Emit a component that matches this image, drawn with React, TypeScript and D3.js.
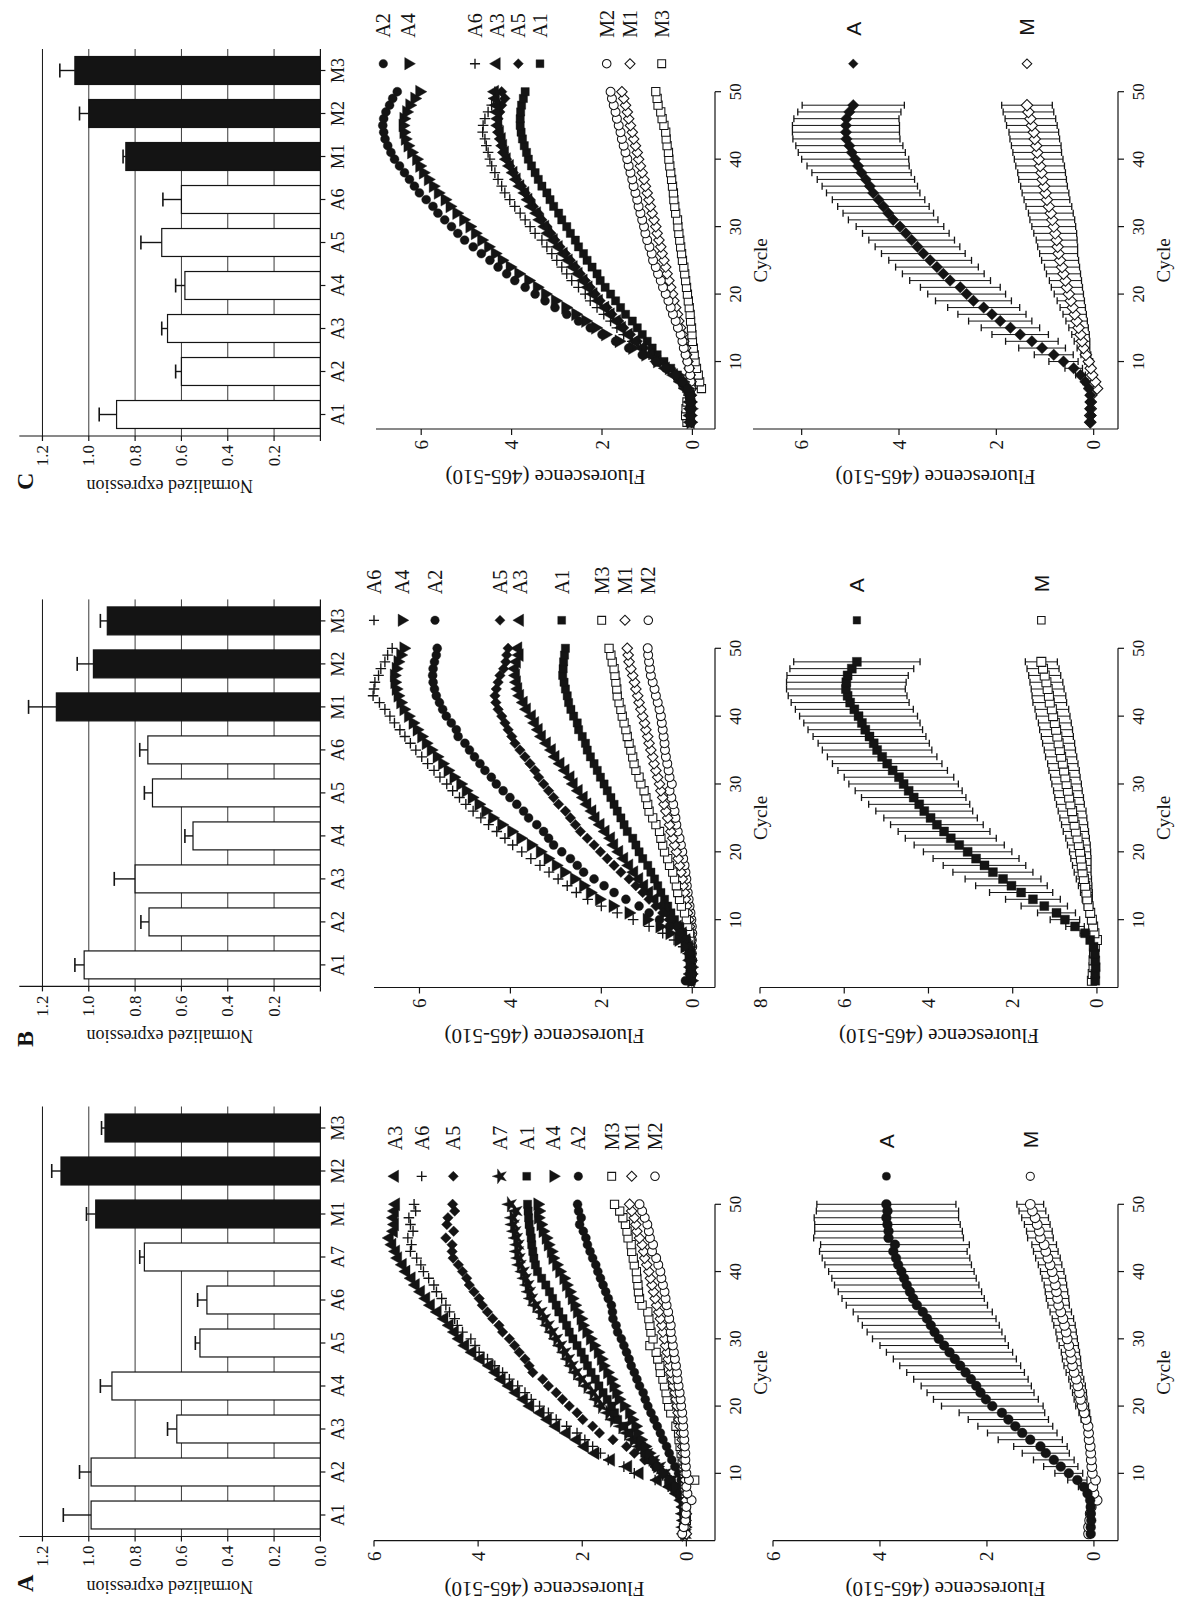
import React, { useEffect, useRef } from 'react';
import * as d3 from 'd3';

// ---------- bar charts (normalized expression) ----------
const barCatsA = ['A1', 'A2', 'A3', 'A4', 'A5', 'A6', 'A7', 'M1', 'M2', 'M3'];
const barValsA = [0.99, 0.99, 0.62, 0.9, 0.52, 0.49, 0.76, 0.97, 1.12, 0.93];
const barErrA = [0.12, 0.05, 0.04, 0.05, 0.02, 0.04, 0.02, 0.04, 0.04, 0.015];

const barCatsBC = ['A1', 'A2', 'A3', 'A4', 'A5', 'A6', 'M1', 'M2', 'M3'];
const barValsB = [1.02, 0.74, 0.8, 0.55, 0.725, 0.745, 1.14, 0.98, 0.92];
const barErrB = [0.04, 0.035, 0.09, 0.035, 0.035, 0.035, 0.12, 0.07, 0.03];
const barValsC = [0.88, 0.6, 0.66, 0.585, 0.685, 0.6, 0.84, 1.0, 1.06];
const barErrC = [0.075, 0.025, 0.025, 0.04, 0.09, 0.08, 0.012, 0.04, 0.065];

const barTicks = [0, 0.2, 0.4, 0.6, 0.8, 1.0, 1.2];
const cycleTicks = [10, 20, 30, 40, 50];

// ---------- amplification curves, cycles 1..50 ----------
const aMidA3 = [0.05, 0.03, 0.04, 0.05, 0.06, 0.1, 0.19, 0.32, 0.55, 0.9, 1.12, 1.45, 1.75, 1.95, 2.1, 2.3, 2.5, 2.66, 2.8, 3.0, 3.12, 3.27, 3.4, 3.55, 3.66, 3.78, 3.95, 4.11, 4.25, 4.36, 4.45, 4.55, 4.65, 4.78, 4.91, 5.0, 5.1, 5.2, 5.28, 5.38, 5.45, 5.54, 5.58, 5.65, 5.7, 5.62, 5.6, 5.62, 5.6, 5.58];
const aMidA6 = [0.04, 0.05, 0.03, 0.04, 0.05, 0.08, 0.2, 0.35, 0.6, 1.0, 1.2, 1.5, 1.65, 1.8, 1.95, 2.1, 2.3, 2.5, 2.65, 2.82, 2.98, 3.1, 3.24, 3.4, 3.53, 3.68, 3.82, 3.98, 4.06, 4.14, 4.3, 4.4, 4.45, 4.55, 4.62, 4.7, 4.8, 4.85, 4.95, 5.05, 5.1, 5.18, 5.3, 5.28, 5.35, 5.25, 5.3, 5.33, 5.2, 5.23];
const aMidA5 = [0.06, 0.04, 0.05, 0.03, 0.05, 0.08, 0.12, 0.2, 0.3, 0.45, 0.6, 0.8, 1.0, 1.15, 1.41, 1.67, 1.8, 1.99, 2.1, 2.25, 2.38, 2.5, 2.65, 2.76, 2.95, 3.02, 3.1, 3.21, 3.3, 3.4, 3.53, 3.6, 3.72, 3.82, 3.92, 3.98, 4.08, 4.17, 4.22, 4.3, 4.38, 4.48, 4.5, 4.5, 4.62, 4.47, 4.6, 4.58, 4.45, 4.49];
const aMidA7 = [0.03, 0.05, 0.04, 0.06, 0.04, 0.06, 0.1, 0.19, 0.29, 0.42, 0.52, 0.64, 0.77, 0.9, 1.03, 1.14, 1.25, 1.41, 1.5, 1.64, 1.72, 1.8, 1.92, 2.02, 2.12, 2.2, 2.27, 2.34, 2.42, 2.5, 2.58, 2.66, 2.73, 2.8, 2.9, 2.98, 3.02, 3.05, 3.1, 3.14, 3.2, 3.22, 3.25, 3.24, 3.27, 3.3, 3.33, 3.34, 3.28, 3.39];
const aMidA1 = [0.05, 0.06, 0.04, 0.05, 0.03, 0.06, 0.1, 0.18, 0.3, 0.45, 0.58, 0.71, 0.8, 0.9, 0.99, 1.1, 1.2, 1.32, 1.38, 1.44, 1.52, 1.6, 1.68, 1.75, 1.83, 1.9, 1.96, 2.02, 2.1, 2.18, 2.25, 2.3, 2.37, 2.45, 2.5, 2.57, 2.63, 2.7, 2.78, 2.86, 2.9, 2.93, 2.95, 2.97, 2.98, 3.0, 3.02, 3.03, 3.04, 3.05];
const aMidA4 = [0.04, 0.03, 0.05, 0.04, 0.06, 0.07, 0.12, 0.22, 0.35, 0.45, 0.56, 0.65, 0.72, 0.8, 0.88, 0.95, 0.98, 1.05, 1.1, 1.2, 1.3, 1.35, 1.4, 1.45, 1.52, 1.6, 1.64, 1.7, 1.78, 1.85, 1.92, 2.0, 2.03, 2.1, 2.15, 2.2, 2.25, 2.31, 2.36, 2.44, 2.5, 2.57, 2.6, 2.66, 2.7, 2.76, 2.8, 2.85, 2.84, 2.86];
const aMidA2 = [0.03, 0.04, 0.02, 0.04, 0.03, 0.04, 0.06, 0.08, 0.1, 0.15, 0.22, 0.28, 0.33, 0.38, 0.45, 0.5, 0.56, 0.62, 0.68, 0.74, 0.79, 0.83, 0.9, 0.95, 1.0, 1.06, 1.1, 1.15, 1.2, 1.25, 1.32, 1.35, 1.41, 1.42, 1.44, 1.5, 1.55, 1.6, 1.65, 1.7, 1.74, 1.8, 1.85, 1.9, 1.93, 1.98, 2.05, 2.02, 2.07, 2.09];
const aMidM3 = [0.02, 0.03, 0.0, 0.02, 0.01, 0.0, 0.02, 0.03, -0.16, 0.04, 0.06, 0.08, 0.1, 0.12, 0.14, 0.15, 0.2, 0.16, 0.3, 0.34, 0.37, 0.39, 0.42, 0.45, 0.5, 0.51, 0.55, 0.58, 0.7, 0.64, 0.68, 0.7, 0.72, 0.74, 0.85, 0.9, 0.92, 0.93, 0.95, 0.96, 1.0, 1.02, 1.05, 1.06, 1.12, 1.14, 1.17, 1.22, 1.28, 1.38];
const aMidM1 = [0.0, 0.02, 0.01, 0.0, 0.02, 0.01, 0.0, 0.02, 0.02, 0.03, 0.04, 0.05, 0.06, 0.07, 0.08, 0.1, 0.12, 0.14, 0.16, 0.18, 0.2, 0.22, 0.25, 0.27, 0.3, 0.32, 0.35, 0.37, 0.4, 0.42, 0.45, 0.47, 0.5, 0.53, 0.57, 0.6, 0.63, 0.66, 0.69, 0.72, 0.76, 0.8, 0.82, 0.85, 0.9, 0.95, 0.97, 1.0, 1.05, 1.09];
const aMidM2 = [0.08, 0.05, 0.02, 0.01, 0.0, -0.1, -0.02, 0.0, -0.05, 0.0, 0.01, 0.02, 0.02, 0.03, 0.04, 0.05, 0.06, 0.07, 0.08, 0.1, 0.11, 0.13, 0.15, 0.17, 0.18, 0.2, 0.22, 0.24, 0.26, 0.28, 0.3, 0.3, 0.33, 0.35, 0.38, 0.4, 0.42, 0.45, 0.48, 0.5, 0.54, 0.58, 0.66, 0.64, 0.7, 0.72, 0.75, 0.8, 0.85, 0.9];

const bMidA6 = [0.03, 0.02, 0.04, 0.05, 0.1, 0.2, 0.4, 0.65, 0.95, 1.3, 1.65, 2.0, 2.3, 2.55, 2.75, 2.95, 3.15, 3.35, 3.55, 3.75, 3.95, 4.12, 4.3, 4.48, 4.65, 4.82, 4.98, 5.12, 5.27, 5.4, 5.55, 5.68, 5.82, 5.95, 6.08, 6.2, 6.32, 6.43, 6.55, 6.65, 6.76, 6.88, 7.02, 7.0, 6.98, 6.9, 6.85, 6.76, 6.7, 6.6];
const bMidA4 = [0.02, 0.03, 0.02, 0.05, 0.08, 0.17, 0.3, 0.5, 0.72, 1.0, 1.4, 1.75, 2.05, 2.25, 2.4, 2.6, 2.82, 3.0, 3.18, 3.35, 3.55, 3.78, 3.98, 4.2, 4.4, 4.55, 4.7, 4.85, 4.98, 5.1, 5.25, 5.38, 5.5, 5.62, 5.75, 5.86, 5.96, 6.06, 6.15, 6.25, 6.35, 6.42, 6.48, 6.52, 6.55, 6.56, 6.52, 6.48, 6.42, 6.35];
const bMidA2 = [0.15, 0.05, 0.04, 0.05, 0.07, 0.1, 0.17, 0.28, 0.5, 0.72, 0.95, 1.17, 1.46, 1.72, 1.94, 2.16, 2.39, 2.53, 2.68, 2.87, 3.05, 3.16, 3.27, 3.42, 3.6, 3.71, 3.86, 4.01, 4.16, 4.31, 4.42, 4.56, 4.67, 4.79, 4.9, 5.0, 5.15, 5.19, 5.3, 5.41, 5.49, 5.56, 5.63, 5.67, 5.7, 5.71, 5.7, 5.67, 5.63, 5.61];
const bMidA5 = [0.04, 0.03, 0.05, 0.04, 0.05, 0.07, 0.13, 0.24, 0.35, 0.5, 0.65, 0.8, 0.95, 1.09, 1.24, 1.39, 1.57, 1.72, 1.87, 2.02, 2.16, 2.31, 2.46, 2.57, 2.68, 2.79, 2.94, 3.05, 3.16, 3.27, 3.38, 3.46, 3.57, 3.68, 3.79, 3.9, 3.97, 4.05, 4.12, 4.19, 4.27, 4.32, 4.34, 4.31, 4.27, 4.23, 4.15, 4.1, 4.08, 4.05];
const bMidA3 = [0.03, 0.04, 0.03, 0.05, 0.04, 0.07, 0.13, 0.21, 0.32, 0.47, 0.58, 0.69, 0.83, 0.95, 1.06, 1.17, 1.28, 1.39, 1.5, 1.61, 1.72, 1.79, 1.91, 2.02, 2.13, 2.2, 2.31, 2.39, 2.5, 2.61, 2.68, 2.79, 2.9, 3.01, 3.09, 3.2, 3.31, 3.38, 3.46, 3.53, 3.64, 3.71, 3.79, 3.83, 3.86, 3.88, 3.9, 3.86, 3.8, 3.83];
const bMidA1 = [0.04, 0.05, 0.03, 0.04, 0.05, 0.07, 0.13, 0.21, 0.28, 0.39, 0.47, 0.54, 0.61, 0.69, 0.76, 0.83, 0.91, 0.98, 1.09, 1.17, 1.24, 1.31, 1.43, 1.5, 1.57, 1.65, 1.72, 1.79, 1.87, 1.94, 2.02, 2.09, 2.16, 2.24, 2.31, 2.35, 2.42, 2.5, 2.53, 2.61, 2.67, 2.72, 2.75, 2.79, 2.82, 2.85, 2.84, 2.83, 2.81, 2.79];
const bMidM3 = [0.03, 0.02, 0.04, 0.03, 0.04, 0.04, 0.05, 0.06, 0.1, 0.13, 0.17, 0.24, 0.28, 0.32, 0.35, 0.39, 0.43, 0.5, 0.54, 0.61, 0.65, 0.69, 0.72, 0.8, 0.87, 0.95, 0.98, 1.02, 1.06, 1.13, 1.17, 1.24, 1.28, 1.31, 1.35, 1.39, 1.43, 1.46, 1.5, 1.54, 1.57, 1.61, 1.65, 1.66, 1.68, 1.7, 1.72, 1.76, 1.79, 1.83];
const bMidM1 = [0.02, 0.01, 0.03, 0.02, 0.03, 0.03, 0.04, 0.05, 0.06, 0.07, 0.1, 0.12, 0.15, 0.17, 0.2, 0.22, 0.25, 0.28, 0.31, 0.35, 0.39, 0.43, 0.47, 0.5, 0.54, 0.58, 0.62, 0.65, 0.69, 0.72, 0.76, 0.8, 0.84, 0.87, 0.91, 0.95, 0.98, 1.02, 1.05, 1.09, 1.13, 1.17, 1.2, 1.24, 1.27, 1.31, 1.35, 1.39, 1.41, 1.43];
const bMidM2 = [0.02, 0.0, 0.01, 0.0, 0.01, 0.0, 0.01, 0.0, 0.01, 0.02, 0.04, 0.06, 0.08, 0.1, 0.12, 0.13, 0.15, 0.17, 0.2, 0.22, 0.25, 0.28, 0.32, 0.35, 0.37, 0.39, 0.42, 0.46, 0.5, 0.45, 0.5, 0.52, 0.55, 0.58, 0.6, 0.61, 0.63, 0.65, 0.67, 0.69, 0.72, 0.76, 0.8, 0.83, 0.87, 0.91, 0.93, 0.95, 0.97, 0.98];

const cMidA2 = [0.05, 0.04, 0.06, 0.05, 0.04, 0.11, 0.22, 0.37, 0.59, 0.81, 1.11, 1.41, 1.7, 2.0, 2.26, 2.52, 2.78, 3.04, 3.26, 3.48, 3.7, 3.93, 4.11, 4.3, 4.48, 4.67, 4.85, 5.04, 5.19, 5.33, 5.48, 5.63, 5.74, 5.89, 6.04, 6.15, 6.26, 6.37, 6.48, 6.59, 6.67, 6.74, 6.8, 6.83, 6.85, 6.83, 6.78, 6.7, 6.63, 6.53];
const cMidA4 = [0.04, 0.05, 0.03, 0.05, 0.06, 0.11, 0.22, 0.33, 0.52, 0.78, 1.04, 1.33, 1.63, 1.93, 2.15, 2.37, 2.59, 2.81, 3.04, 3.26, 3.44, 3.63, 3.85, 4.04, 4.22, 4.37, 4.52, 4.67, 4.81, 4.93, 5.07, 5.22, 5.37, 5.48, 5.63, 5.74, 5.85, 5.96, 6.04, 6.11, 6.22, 6.3, 6.36, 6.39, 6.41, 6.39, 6.33, 6.26, 6.15, 6.04];
const cMidA6 = [0.05, 0.04, 0.05, 0.06, 0.05, 0.15, 0.26, 0.41, 0.59, 0.78, 0.96, 1.15, 1.33, 1.52, 1.67, 1.81, 1.96, 2.11, 2.26, 2.37, 2.52, 2.67, 2.78, 2.89, 3.0, 3.11, 3.22, 3.33, 3.48, 3.59, 3.7, 3.81, 3.93, 4.04, 4.15, 4.22, 4.3, 4.37, 4.44, 4.48, 4.52, 4.56, 4.59, 4.64, 4.63, 4.59, 4.52, 4.44, 4.4, 4.37];
const cMidA3 = [0.04, 0.05, 0.04, 0.05, 0.04, 0.15, 0.26, 0.41, 0.59, 0.78, 0.93, 1.11, 1.26, 1.41, 1.56, 1.67, 1.81, 1.93, 2.07, 2.19, 2.3, 2.41, 2.52, 2.63, 2.74, 2.85, 2.96, 3.07, 3.19, 3.26, 3.37, 3.44, 3.56, 3.63, 3.7, 3.81, 3.89, 3.96, 4.04, 4.11, 4.15, 4.19, 4.22, 4.26, 4.3, 4.3, 4.32, 4.33, 4.35, 4.37];
const cMidA5 = [0.03, 0.04, 0.05, 0.04, 0.05, 0.13, 0.24, 0.37, 0.56, 0.74, 0.89, 1.07, 1.22, 1.37, 1.52, 1.63, 1.78, 1.89, 2.04, 2.15, 2.26, 2.37, 2.48, 2.59, 2.7, 2.81, 2.93, 3.04, 3.13, 3.22, 3.33, 3.41, 3.52, 3.59, 3.7, 3.78, 3.89, 3.96, 4.04, 4.11, 4.19, 4.22, 4.26, 4.3, 4.31, 4.3, 4.26, 4.22, 4.15, 4.22];
const cMidA1 = [0.05, 0.04, 0.05, 0.03, 0.05, 0.13, 0.22, 0.33, 0.48, 0.63, 0.78, 0.89, 1.0, 1.11, 1.22, 1.33, 1.48, 1.59, 1.7, 1.81, 1.93, 2.04, 2.11, 2.22, 2.33, 2.41, 2.52, 2.59, 2.7, 2.78, 2.89, 2.96, 3.07, 3.15, 3.22, 3.33, 3.41, 3.48, 3.56, 3.63, 3.67, 3.72, 3.76, 3.79, 3.81, 3.81, 3.8, 3.78, 3.74, 3.7];
const cMidM2 = [0.03, 0.04, 0.02, 0.03, 0.04, 0.03, 0.04, 0.05, 0.07, 0.11, 0.15, 0.19, 0.22, 0.26, 0.32, 0.37, 0.43, 0.48, 0.53, 0.59, 0.65, 0.7, 0.76, 0.81, 0.87, 0.9, 0.95, 1.0, 1.04, 1.07, 1.11, 1.15, 1.19, 1.22, 1.26, 1.3, 1.33, 1.37, 1.41, 1.44, 1.48, 1.52, 1.56, 1.59, 1.63, 1.67, 1.7, 1.74, 1.78, 1.81];
const cMidM1 = [0.02, 0.03, 0.04, 0.02, 0.03, 0.02, 0.03, 0.05, 0.07, 0.1, 0.13, 0.15, 0.19, 0.22, 0.26, 0.3, 0.33, 0.37, 0.41, 0.44, 0.48, 0.52, 0.56, 0.59, 0.63, 0.67, 0.7, 0.74, 0.78, 0.81, 0.85, 0.89, 0.93, 0.96, 1.0, 1.04, 1.07, 1.11, 1.15, 1.19, 1.22, 1.26, 1.3, 1.33, 1.37, 1.41, 1.44, 1.48, 1.52, 1.56];
const cMidM3 = [0.12, 0.15, 0.14, 0.12, 0.06, -0.2, -0.16, -0.13, -0.09, -0.06, -0.04, -0.02, 0.0, 0.01, 0.02, 0.04, 0.05, 0.07, 0.09, 0.11, 0.13, 0.15, 0.17, 0.19, 0.22, 0.24, 0.26, 0.28, 0.3, 0.32, 0.33, 0.37, 0.39, 0.41, 0.42, 0.44, 0.46, 0.48, 0.5, 0.52, 0.53, 0.56, 0.58, 0.59, 0.63, 0.67, 0.7, 0.76, 0.78, 0.81];

// ---------- group means +/- SD ----------
const aBotA = [0.06, 0.06, 0.05, 0.06, 0.06, 0.07, 0.12, 0.19, 0.31, 0.47, 0.62, 0.75, 0.9, 1.0, 1.19, 1.34, 1.47, 1.6, 1.72, 1.9, 2.02, 2.12, 2.2, 2.3, 2.4, 2.5, 2.6, 2.7, 2.8, 2.9, 2.98, 3.05, 3.12, 3.2, 3.31, 3.38, 3.44, 3.5, 3.55, 3.6, 3.66, 3.7, 3.75, 3.72, 3.84, 3.84, 3.86, 3.88, 3.86, 3.88];
const aBotAsd = [0.02, 0.02, 0.02, 0.02, 0.02, 0.02, 0.05, 0.1, 0.18, 0.26, 0.32, 0.38, 0.44, 0.5, 0.6, 0.65, 0.7, 0.75, 0.8, 0.95, 0.98, 1.0, 1.03, 1.07, 1.1, 1.13, 1.15, 1.18, 1.2, 1.24, 1.26, 1.28, 1.29, 1.3, 1.32, 1.33, 1.34, 1.35, 1.35, 1.36, 1.37, 1.38, 1.38, 1.39, 1.4, 1.38, 1.36, 1.35, 1.33, 1.3];
const aBotM = [0.1, 0.1, 0.08, 0.07, 0.05, -0.06, 0.0, 0.02, -0.03, 0.03, 0.04, 0.05, 0.06, 0.07, 0.09, 0.1, 0.11, 0.15, 0.18, 0.22, 0.25, 0.27, 0.3, 0.33, 0.37, 0.4, 0.42, 0.44, 0.47, 0.5, 0.52, 0.55, 0.58, 0.62, 0.66, 0.68, 0.7, 0.72, 0.75, 0.78, 0.82, 0.86, 0.9, 0.93, 1.0, 1.02, 1.06, 1.1, 1.15, 1.19];
const aBotMsd = [0.02, 0.02, 0.02, 0.02, 0.02, 0.02, 0.02, 0.02, 0.02, 0.02, 0.03, 0.03, 0.03, 0.03, 0.04, 0.05, 0.06, 0.09, 0.1, 0.12, 0.12, 0.13, 0.14, 0.14, 0.15, 0.16, 0.17, 0.17, 0.18, 0.19, 0.19, 0.2, 0.2, 0.2, 0.2, 0.21, 0.21, 0.21, 0.22, 0.22, 0.22, 0.23, 0.23, 0.23, 0.24, 0.24, 0.24, 0.25, 0.25, 0.25];

const bBotA = [0.04, 0.04, 0.03, 0.04, 0.05, 0.08, 0.16, 0.28, 0.52, 0.76, 0.96, 1.25, 1.52, 1.8, 2.03, 2.23, 2.47, 2.67, 2.87, 3.07, 3.27, 3.47, 3.63, 3.8, 3.95, 4.1, 4.22, 4.35, 4.47, 4.59, 4.7, 4.85, 4.98, 5.1, 5.22, 5.3, 5.4, 5.5, 5.58, 5.66, 5.76, 5.86, 5.92, 5.96, 5.95, 5.92, 5.82, 5.7];
const bBotAsd = [0.02, 0.02, 0.02, 0.02, 0.02, 0.02, 0.06, 0.12, 0.22, 0.35, 0.45, 0.55, 0.65, 0.75, 0.85, 0.9, 0.95, 0.98, 1.02, 1.05, 1.07, 1.08, 1.09, 1.1, 1.11, 1.15, 1.2, 1.24, 1.27, 1.3, 1.3, 1.3, 1.3, 1.3, 1.3, 1.32, 1.34, 1.36, 1.38, 1.4, 1.4, 1.4, 1.41, 1.41, 1.42, 1.44, 1.47, 1.5];
const bBotM = [0.12, 0.1, 0.08, 0.08, 0.07, 0.05, 0.0, 0.06, 0.09, 0.12, 0.16, 0.2, 0.23, 0.25, 0.28, 0.31, 0.34, 0.36, 0.38, 0.4, 0.43, 0.46, 0.5, 0.53, 0.56, 0.59, 0.63, 0.66, 0.69, 0.72, 0.75, 0.78, 0.81, 0.85, 0.88, 0.91, 0.94, 0.97, 1.0, 1.04, 1.07, 1.12, 1.14, 1.17, 1.2, 1.24, 1.28, 1.32];
const bBotMsd = [0.03, 0.03, 0.03, 0.03, 0.03, 0.03, 0.03, 0.03, 0.03, 0.05, 0.08, 0.1, 0.12, 0.14, 0.16, 0.18, 0.2, 0.22, 0.24, 0.25, 0.27, 0.28, 0.3, 0.31, 0.32, 0.33, 0.33, 0.34, 0.34, 0.35, 0.35, 0.36, 0.36, 0.37, 0.37, 0.38, 0.38, 0.39, 0.39, 0.4, 0.4, 0.4, 0.4, 0.39, 0.39, 0.38, 0.38, 0.38];

const cBotA = [0.07, 0.06, 0.07, 0.06, 0.07, 0.1, 0.17, 0.27, 0.41, 0.62, 0.82, 1.06, 1.27, 1.51, 1.71, 1.92, 2.09, 2.26, 2.47, 2.61, 2.74, 2.95, 3.09, 3.22, 3.36, 3.5, 3.62, 3.74, 3.86, 3.98, 4.12, 4.22, 4.32, 4.42, 4.53, 4.6, 4.68, 4.77, 4.84, 4.9, 4.97, 5.02, 5.08, 5.09, 5.09, 5.08, 5.02, 4.94];
const cBotAsd = [0.02, 0.02, 0.02, 0.02, 0.02, 0.02, 0.05, 0.1, 0.18, 0.3, 0.4, 0.48, 0.54, 0.58, 0.6, 0.65, 0.7, 0.74, 0.78, 0.8, 0.82, 0.83, 0.84, 0.85, 0.85, 0.86, 0.87, 0.88, 0.89, 0.9, 0.92, 0.93, 0.94, 0.95, 0.96, 0.98, 1.0, 1.02, 1.05, 1.1, 1.1, 1.1, 1.1, 1.1, 1.1, 1.08, 1.06, 1.05];
const cBotM = [0.07, 0.07, 0.06, 0.06, 0.05, -0.07, -0.03, 0.03, 0.06, 0.1, 0.16, 0.21, 0.24, 0.27, 0.31, 0.35, 0.39, 0.43, 0.47, 0.51, 0.55, 0.58, 0.62, 0.65, 0.69, 0.72, 0.74, 0.76, 0.79, 0.82, 0.85, 0.88, 0.92, 0.96, 0.99, 1.02, 1.05, 1.07, 1.1, 1.13, 1.16, 1.18, 1.21, 1.23, 1.27, 1.3, 1.34, 1.37];
const cBotMsd = [0.04, 0.04, 0.04, 0.04, 0.04, 0.04, 0.04, 0.04, 0.04, 0.08, 0.1, 0.13, 0.16, 0.18, 0.2, 0.22, 0.24, 0.26, 0.28, 0.3, 0.32, 0.33, 0.35, 0.36, 0.38, 0.39, 0.41, 0.42, 0.44, 0.45, 0.46, 0.46, 0.47, 0.47, 0.48, 0.48, 0.49, 0.49, 0.5, 0.5, 0.5, 0.51, 0.51, 0.51, 0.52, 0.52, 0.52, 0.52];

// marker used for every sample
const markerOf: Record<string, [string, boolean]> = {
  A1: ['square', false], A2: ['circle', false], A3: ['tri', false], A4: ['triDown', false],
  A5: ['diamond', false], A6: ['plus', false], A7: ['star', false],
  M1: ['diamond', true], M2: ['circle', true], M3: ['square', true],
};

const W = 1177;
const H = 1615;
const INK = '#141414';
const SERIF = '"Liberation Serif", "Times New Roman", serif';
const SANS = '"Liberation Sans", Arial, sans-serif';

// layout of the un-rotated figure (1615 wide, 1177 tall)
const panels = [
  {
    letter: 'A', letterX: 23, barX0: 78.5, cats: barCatsA, vals: barValsA, errs: barErrA, zeroLabel: true,
    cx0: 74.4, cx1: 410.7, midDomain: [-0.55, 6], midTop: 374, midTicks: [0, 2, 4, 6],
    mid: { A3: aMidA3, A6: aMidA6, A5: aMidA5, A7: aMidA7, A1: aMidA1, A4: aMidA4, A2: aMidA2, M3: aMidM3, M1: aMidM1, M2: aMidM2 },
    legend: [['A3', 395], ['A6', 421.7], ['A5', 453.3], ['A7', 500], ['A1', 526.7], ['A4', 553.3], ['A2', 578.3], ['M3', 611.7], ['M1', 631.7], ['M2', 655]],
    botDomain: [-0.45, 6], botTop: 773, botTicks: [0, 2, 4, 6], botSym: 'circle',
    botA: aBotA, botAsd: aBotAsd, botM: aBotM, botMsd: aBotMsd,
  },
  {
    letter: 'B', letterX: 568, barX0: 628.6, cats: barCatsBC, vals: barValsB, errs: barErrB, zeroLabel: false,
    cx0: 627.5, cx1: 966.7, midDomain: [-0.5, 7], midTop: 374, midTicks: [0, 2, 4, 6],
    mid: { M2: bMidM2, M1: bMidM1, M3: bMidM3, A1: bMidA1, A3: bMidA3, A5: bMidA5, A2: bMidA2, A4: bMidA4, A6: bMidA6 },
    legend: [['A6', 374], ['A4', 401.7], ['A2', 435], ['A5', 500], ['A3', 520], ['A1', 561.7], ['M3', 601.7], ['M1', 625], ['M2', 648.3]],
    botDomain: [-0.5, 8], botTop: 760, botTicks: [0, 2, 4, 6, 8], botSym: 'square',
    botA: bBotA, botAsd: bBotAsd, botM: bBotM, botMsd: bBotMsd,
  },
  {
    letter: 'C', letterX: 1125, barX0: 1179, cats: barCatsBC, vals: barValsC, errs: barErrC, zeroLabel: false,
    cx0: 1186, cx1: 1523.3, midDomain: [-0.5, 7], midTop: 376, midTicks: [0, 2, 4, 6],
    mid: { M3: cMidM3, M1: cMidM1, M2: cMidM2, A1: cMidA1, A5: cMidA5, A3: cMidA3, A6: cMidA6, A4: cMidA4, A2: cMidA2 },
    legend: [['A2', 383.3], ['A4', 408.3], ['A6', 475], ['A3', 496.7], ['A5', 518.3], ['A1', 540], ['M2', 606.7], ['M1', 630], ['M3', 661.7]],
    botDomain: [-0.5, 7], botTop: 753, botTicks: [0, 2, 4, 6], botSym: 'diamond',
    botA: cBotA, botAsd: cBotAsd, botM: cBotM, botMsd: cBotMsd,
  },
];

const symPath = (type: d3.SymbolType, size: number) => d3.symbol().type(type).size(size)() as string;

function marker(g: any, kind: string, open: boolean, cx: number, cy: number, k = 1) {
  if (kind === 'plus') {
    const h = 4.8 * k;
    g.append('path')
      .attr('d', `M${cx - h},${cy}H${cx + h}M${cx},${cy - h}V${cy + h}`)
      .attr('stroke', INK).attr('stroke-width', 1.35).attr('fill', 'none');
    return;
  }
  let d = '';
  let rot = 0;
  const s = k * k;
  if (kind === 'circle') d = symPath(d3.symbolCircle, 52 * s);
  if (kind === 'square') d = symPath(d3.symbolSquare, 56 * s);
  if (kind === 'diamond') { d = symPath(d3.symbolSquare, 46 * s); rot = 45; }
  if (kind === 'tri') d = symPath(d3.symbolTriangle, 60 * s);
  if (kind === 'triDown') { d = symPath(d3.symbolTriangle, 60 * s); rot = 180; }
  if (kind === 'star') d = symPath(d3.symbolStar, 62 * s);
  g.append('path')
    .attr('d', d)
    .attr('transform', `translate(${cx},${cy}) rotate(${rot})`)
    .attr('fill', open ? '#fff' : INK)
    .attr('stroke', INK)
    .attr('stroke-width', open ? 1.05 : 0.4);
}

function line(g: any, x1: number, y1: number, x2: number, y2: number, w = 1.2, color = INK) {
  g.append('line').attr('x1', x1).attr('y1', y1).attr('x2', x2).attr('y2', y2)
    .attr('stroke', color).attr('stroke-width', w);
}

function text(g: any, s: string, x: number, y: number, size: number, anchor = 'middle', font = SERIF) {
  return g.append('text').attr('x', x).attr('y', y).attr('font-size', size)
    .attr('font-family', font).attr('text-anchor', anchor).attr('fill', INK).text(s);
}

function drawBars(g: any, p: any) {
  const n = p.cats.length;
  const x = d3.scaleBand<string>().domain(p.cats).range([p.barX0, p.barX0 + n * 43])
    .paddingInner(0.35).paddingOuter(0.175);
  const y = d3.scaleLinear().domain([0, 1.3]).range([320.4, 19.3]);
  const xEnd = p.barX0 + n * 43;

  barTicks.filter((t) => t > 0).forEach((t) => line(g, p.barX0, y(t), xEnd, y(t), 1, t === 1.2 ? INK : '#3a3a3a'));

  p.cats.forEach((c: string, i: number) => {
    const isM = c.startsWith('M');
    const v = p.vals[i];
    const cx = (x(c) as number) + x.bandwidth() / 2;
    g.append('rect').attr('x', x(c)).attr('y', y(v)).attr('width', x.bandwidth())
      .attr('height', y(0) - y(v)).attr('fill', isM ? INK : '#fff')
      .attr('stroke', INK).attr('stroke-width', 1.2);
    const top = y(v + p.errs[i]);
    line(g, cx, y(v), cx, top, 1.4);
    line(g, cx - 7, top, cx + 7, top, 1.6);
  });

  // value axis
  line(g, p.barX0, y(0), p.barX0, y(1.3));
  barTicks.forEach((t) => {
    line(g, p.barX0 - 5, y(t), p.barX0, y(t));
    if (t > 0 || p.zeroLabel) {
      text(g, d3.format('.1f')(t), p.barX0 - 9, y(t), 17, 'end').attr('dominant-baseline', 'central');
    }
  });
  // category axis
  line(g, p.barX0, y(0), xEnd, y(0));
  p.cats.forEach((c: string) => {
    const cx = (x(c) as number) + x.bandwidth() / 2;
    line(g, cx, y(0), cx, y(0) + 5);
    text(g, c, cx, y(0) + 24, 18);
  });
  text(g, 'Normalized expression', 0, 0, 18)
    .attr('transform', `translate(${p.barX0 - 44},${(y(0) + y(1.3)) / 2}) rotate(-90)`);
  text(g, p.letter, p.letterX, 33, 24, 'start').attr('font-weight', 'bold');
}

function drawAxes(g: any, x: any, y: any, base: number, top: number, ticks: number[]) {
  // cycle axis
  line(g, x(0), base, x(50), base);
  cycleTicks.forEach((c) => {
    line(g, x(c), base, x(c), base + 6);
    text(g, String(c), x(c), base + 26, 17);
  });
  text(g, 'Cycle', x(25), base + 52, 19);
  // fluorescence axis
  line(g, x(0), base, x(0), top);
  ticks.forEach((t) => {
    line(g, x(0) - 6, y(t), x(0), y(t));
    text(g, String(t), x(0) - 11, y(t), 19, 'end').attr('dominant-baseline', 'central');
  });
  text(g, 'Fluorescence (465-510)', 0, 0, 21)
    .attr('transform', `translate(${x(0) - 41},${(base + top) / 2}) rotate(-90)`);
}

function drawMid(g: any, p: any) {
  const base = 715;
  const x = d3.scaleLinear().domain([0, 50]).range([p.cx0, p.cx1]);
  const y = d3.scaleLinear().domain(p.midDomain).range([base, p.midTop]);
  drawAxes(g, x, y, base, p.midTop, p.midTicks);

  Object.keys(p.mid).forEach((name) => {
    const [kind, open] = markerOf[name];
    (p.mid[name] as number[]).forEach((v, i) => marker(g, kind, open, x(i + 1), y(v), 1.1));
  });

  p.legend.forEach(([name, v]: [string, number]) => {
    const [kind, open] = markerOf[name];
    marker(g, kind, open, x(50) + 28, v, 1.05);
    text(g, name, x(50) + 54, v, 20, 'start').attr('dominant-baseline', 'central');
  });
}

function drawBottom(g: any, p: any) {
  const base = 1118;
  const x = d3.scaleLinear().domain([0, 50]).range([p.cx0, p.cx1]);
  const y = d3.scaleLinear().domain(p.botDomain).range([base, p.botTop]);
  drawAxes(g, x, y, base, p.botTop, p.botTicks);

  const groups = [
    { vals: p.botM, sd: p.botMsd, open: true, label: 'M' },
    { vals: p.botA, sd: p.botAsd, open: false, label: 'A' },
  ];
  groups.forEach((grp) => {
    (grp.vals as number[]).forEach((v, i) => {
      const cx = x(i + 1);
      const hi = y(v + grp.sd[i]);
      const lo = y(v - grp.sd[i]);
      line(g, cx, hi, cx, lo, 1);
      line(g, cx - 3.5, hi, cx + 3.5, hi, 1.3);
      line(g, cx - 3.5, lo, cx + 3.5, lo, 1.3);
    });
  });
  groups.forEach((grp) => {
    (grp.vals as number[]).forEach((v, i) => marker(g, p.botSym, grp.open, x(i + 1), y(v), 1.2));
    const last = grp.vals[grp.vals.length - 1];
    marker(g, p.botSym, grp.open, x(50) + 28, y(last), 1.0);
    text(g, grp.label, x(50) + 56, y(last), 21, 'start', SANS).attr('dominant-baseline', 'central');
  });
}

export default function App() {
  const ref = useRef<SVGSVGElement>(null);

  useEffect(() => {
    const svg = d3.select(ref.current);
    svg.selectAll('*').remove();
    svg.append('rect').attr('width', W).attr('height', H).attr('fill', '#fff');
    // the figure is laid out landscape, then turned a quarter turn counter-clockwise
    const root = svg.append('g').attr('transform', `translate(0,${H}) rotate(-90)`);
    panels.forEach((p) => {
      drawBars(root, p);
      drawMid(root, p);
      drawBottom(root, p);
    });
  }, []);

  return (
    <svg
      ref={ref}
      width={W}
      height={H}
      style={{ position: 'absolute', left: 0, top: 0, display: 'block' }}
    />
  );
}
